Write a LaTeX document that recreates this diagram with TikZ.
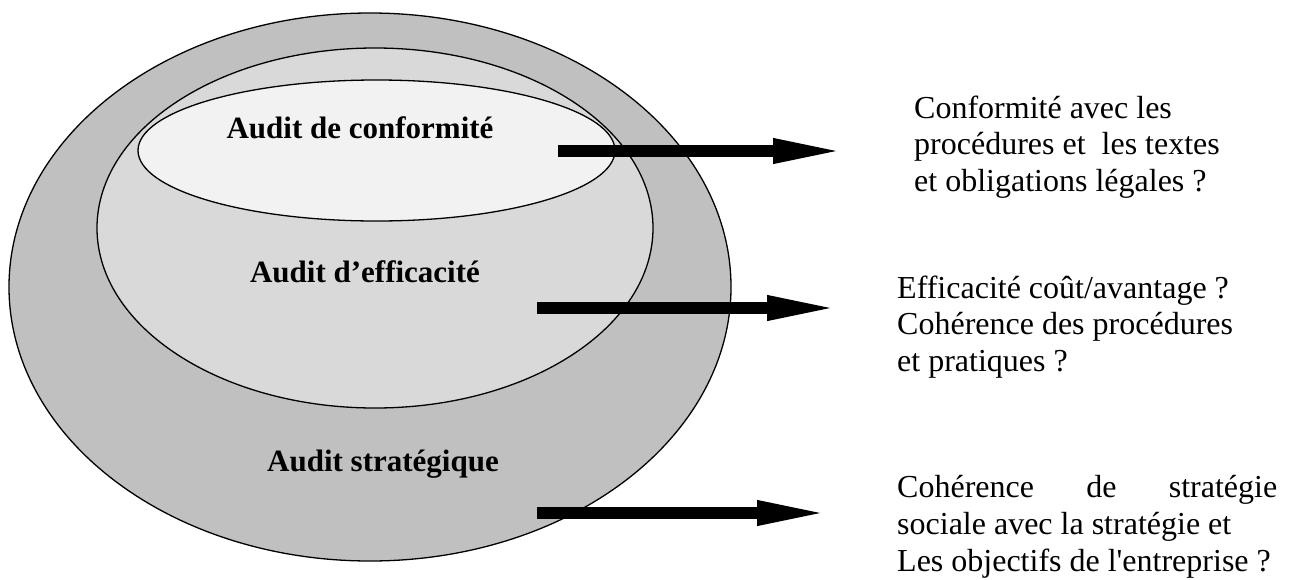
\documentclass[tikz,border=0pt]{standalone}
\usepackage{fontspec}
\setmainfont{Liberation Serif}
\usetikzlibrary{arrows.meta}
\definecolor{outergray}{RGB}{192,192,192}
\definecolor{middlegray}{RGB}{217,217,217}
\definecolor{innergray}{RGB}{242,242,242}
\begin{document}
\begin{tikzpicture}[x=1pt,y=-1pt,
  zone/.style={draw=black,line width=1.3pt},
  auditname/.style={inner sep=0pt,font=\fontsize{31}{36}\selectfont\bfseries},
  question/.style={anchor=west,align=left,inner sep=0pt,font=\fontsize{32}{36.8}\selectfont},
  bigarrow/.style={line width=12pt,-{Triangle[length=75pt,width=22pt]}}]
  \useasboundingbox (0,0) rectangle (1299,579);

  % nested zones
  \draw[zone,fill=outergray] (370,287) ellipse [x radius=361, y radius=274];
  \draw[zone,fill=middlegray] (375,228) ellipse [x radius=278, y radius=180];
  \draw[zone,fill=innergray] (376.5,150.5) ellipse [x radius=238.5, y radius=70.5];

  \node[auditname] (conf) at (360,128) {Audit de conformité};
  \node[auditname] (effi) at (365,272) {Audit d’efficacité};
  \node[auditname] (strat) at (383,464) {Audit stratégique};

  % questions
  \node[question] (qconf) at (914,147) {Conformité avec les\\procédures et \ les textes\\et obligations légales ?};
  \node[question] (qeffi) at (897,327) {Efficacité coût/avantage ?\\Cohérence des procédures\\et pratiques ?};
  \node[question] (qstrat) at (897,527) {\makebox[380pt][s]{Cohérence de stratégie}\\sociale avec la stratégie et\\Les objectifs de l\textquotesingle entreprise ?};

  \coordinate (a1) at (558,151);
  \coordinate (b1) at (848,151);
  \coordinate (a2) at (537,308);
  \coordinate (b2) at (842,308);
  \coordinate (a3) at (537,513);
  \coordinate (b3) at (832,513);

  \draw[bigarrow] (a1) -- (b1);
  \draw[bigarrow] (a2) -- (b2);
  \draw[bigarrow] (a3) -- (b3);
\end{tikzpicture}
\end{document}
